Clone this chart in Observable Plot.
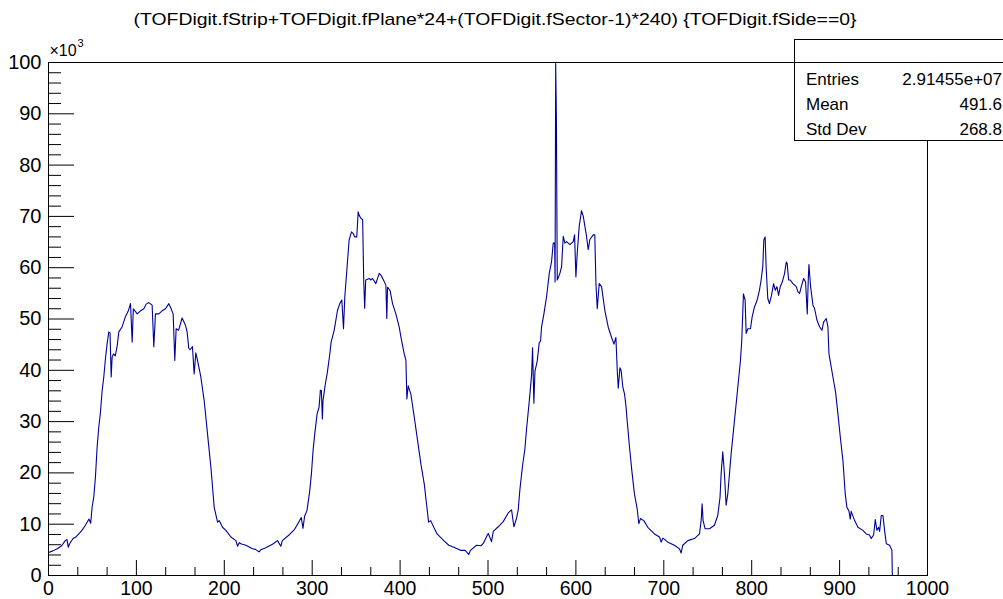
<!DOCTYPE html>
<html><head><meta charset="utf-8">
<script src="https://cdn.jsdelivr.net/npm/d3@7"></script>
<script src="https://cdn.jsdelivr.net/npm/@observablehq/plot@0.6"></script>
<style>
body{margin:0;background:#fff;}
#wrap{position:relative;width:1003px;height:599px;overflow:hidden;font-family:"Liberation Sans",Arial,sans-serif;}
#wrap svg{position:absolute;left:0;top:0;}
#stats{position:absolute;left:794px;top:39px;width:216px;height:102px;border:1px solid #000;background:#fff;box-sizing:border-box;}
#stats .hdr{height:22px;border-bottom:1px solid #000;}
#stats .row{position:absolute;left:11px;width:196px;height:25px;line-height:25px;font-size:17px;color:#000;}
#stats .row .v{position:absolute;right:0;top:0;}
</style></head><body><div id="wrap"></div>
<script>
const chartTitle = "(TOFDigit.fStrip+TOFDigit.fPlane*24+(TOFDigit.fSector-1)*240) {TOFDigit.fSide==0}";
const statLabels = ["Entries", "Mean", "Std Dev"];
const statValues = ["2.91455e+07", "491.6", "268.8"];
const xTickLabels = [0, 100, 200, 300, 400, 500, 600, 700, 800, 900, 1000];
const yTickLabels = [0, 10, 20, 30, 40, 50, 60, 70, 80, 90, 100];
const xMinorTicks = [33.33,66.67,133.33,166.67,233.33,266.67,333.33,366.67,433.33,466.67,533.33,566.67,633.33,666.67,733.33,766.67,833.33,866.67,933.33,966.67];
const yMinorTicks = [2,4,6,8,12,14,16,18,22,24,26,28,32,34,36,38,42,44,46,48,52,54,56,58,62,64,66,68,72,74,76,78,82,84,86,88,92,94,96,98];
const yExponentBase = "×10";
const yExponentPower = "3";

// bin position (TOFDigit index) and entries in units of 10^3
const binX = [
0,5,10,15,19,21,22.5,24,28,31,35,38,42,46,48,49.6,51.5,53.4,55.3,57.2,59.1,61,62.9,64.8,66.7,68.6,70,71.3,72.4,74,76,78,80,83.8,87.6,90.6,93.3,95.2,96.5,100.9,104.7,108.5,111.1,114.1,117.9,119.8,121.7,125.5,129.3,133.1,136.9,139.5,141.8,143.7,145.2,148,152,155.8,157.7,159.6,161,163.8,165.7,167.6,169.5,173.3,177.1,179,182.8,184.7,186.6,188.5,192.3,194.2,198,201.8,207.5,213.2,215.1,217,218.8,224.5,232.1,235.5,239.6,241.5,247.2,254.8,260.5,264.3,266,274.3,280,285.7,287.6,289.5,291.4,294,297.2,299.1,301,302.9,305.6,307.8,309.3,310.4,311.6,312.3,315,317,319.6,321.5,325,328.8,331.4,333.7,335.6,337.1,339.4,342,344.7,346.5,348.5,350.7,352.3,353.5,355.5,357.4,358.6,359.7,360.9,365,366.8,368.6,372.4,376.2,378,381.1,383.8,384.9,385.7,388.7,391.4,395.2,399,400.9,404.7,406.6,407.7,409.2,412.3,416.1,419.9,423.7,427.5,430.5,432.4,434.8,438.3,442.1,449.7,455.4,461.1,468.7,474,478.1,480,487,492,494.6,498.4,500.3,504,506,511.6,517.3,523,526.8,529.5,532.5,534.4,536.3,539.3,542,543.9,546.9,549.6,550.7,552.2,553.4,556,558.3,559.8,560.9,563.6,566.6,569.7,572.3,574.2,575.8,576.3,577,577.8,578.8,581.8,583.7,585.6,587.5,589.4,593.2,597,598.5,600,601.5,603.8,606.4,608.3,610.2,612.1,614,615.9,619.7,621.5,622.8,624.3,626.5,629.2,633,636.8,640.6,643.3,645.5,647.1,648.2,650.1,651.5,653.4,655.3,657,658.3,661,663.6,666.6,669.7,671.6,673.5,677.2,681.8,689.4,695.1,697,699,704.6,712.1,717.8,719.7,721.6,727.3,734.9,740.6,742.5,743.6,744.7,747,752,757.6,761.4,764,765.2,767.1,769,770.9,772.8,776.6,780.4,784.2,787.2,788.7,790.6,792.5,793.7,795.6,798.6,800.5,803.1,806.2,808.8,810.7,812.6,813.8,815.3,816.4,818.3,820.2,822.5,824.9,826.8,828.7,830.6,832.5,834.8,837.4,839.3,840.4,842,843.9,846.9,850.7,852.6,854.5,856.4,859.1,861.3,863.2,864.4,865.1,867,869.7,871.6,874.2,877.2,879.9,881.8,884.8,886.7,887.9,889.8,892.4,895.4,898.1,900.8,903.8,906.4,908.3,910.6,912.1,913.2,917.1,920.9,926.5,930.3,934,936,938.7,940.6,942.5,944.4,945.5,947.4,949.3,951.2,953.1,956.9,959.5,960,1000
];
const countsK = [
4.5,4.8,5.2,5.8,6.8,7.0,5.5,6.2,7.2,7.5,8.2,8.8,9.8,11.0,10.2,13.3,15.3,19.2,25.0,28.9,31.8,36,38.7,42.3,45.2,47.5,47.3,38.7,42.6,43.2,42.8,44.6,47.5,48.5,50.5,51.5,53.0,45.5,52.0,51.0,51.6,52,52.9,53.2,52.7,44.6,51,51,51.6,52,53,52,51,41.9,48.1,47.8,50.2,48.8,47.5,44.3,44,44.6,39.3,43.4,42,38.7,34.1,30.9,24.4,21.2,17.3,13.3,10.4,10.7,9.4,8.8,7.5,6.8,5.7,6.4,6.2,5.9,5.2,5.1,4.6,5.0,5.4,6.1,6.8,5.7,6.8,8.0,9.0,10.7,11.3,9.2,11.6,12.6,16.5,19.8,24.4,27.6,31.5,32.8,36.1,36.1,30.5,34.1,37.4,39.3,42.6,45.5,47.8,51.7,53,53.7,48.1,54.3,59.5,65.4,67,66.7,66,66,70.9,70.2,69.6,69.4,57.6,52.1,57.6,57.9,57.6,57.9,56.9,58.9,58.6,57.6,56.6,50.1,56.2,55.5,53,51,48.4,46.5,43.2,42,34.4,37,35.3,30.9,26.3,21.7,17.8,13.3,10.4,10.7,9.4,8.1,6.8,5.9,5.5,4.9,4.9,4.1,4.9,5.9,5.8,6.25,7.6,8.2,6.6,8.6,9.5,10.5,12.2,12.8,9.5,11.2,12.8,16.8,21.4,24.7,28.6,33.9,39.1,44.4,33.6,39.8,41.8,45.4,45.7,48.4,51,54.3,58.9,61.2,64.8,64.8,57.2,99.8,89.1,57.6,58.9,60.2,66.1,64.8,65.1,64.5,65.1,66.4,58.2,62.8,68.1,71.1,70.1,68.1,66.1,63.5,65.5,66.4,66.4,56.9,52,56.9,56.3,51.6,48.4,46.4,45.1,46.4,39.8,36.5,40.5,39.9,36.7,35.4,33,30.2,25,20.5,15.9,13,10.1,11.1,10.7,9.4,8.1,7.5,6.5,7.3,6.5,5.9,5.2,4.4,5.9,6.8,7.2,8.1,10.7,14,10.7,9.1,9.1,9.8,11.7,15.3,19.8,24.1,19.8,13.7,15.9,23.7,30.2,36.7,41.9,45.8,54.9,53.7,47.2,48.1,48.1,50.4,52.3,53.7,55.6,57.6,60.2,65.4,66,60.2,54,53,54.6,56.9,55.6,56.3,54.6,56.3,57.2,58.9,61.1,60.8,57.6,57.6,56.9,56.3,55.3,55,56.3,57.9,57.2,51,57.9,60.6,56.3,52.7,52,49.8,48.5,47.8,49.4,50.1,48.5,43.2,41.3,38.7,35.8,31.5,27,22.4,15.9,13.3,12.6,11,12.5,10.7,9.4,8.8,8.1,7.9,7.2,7.9,10.9,8.8,9.4,8.6,11.7,11.7,8.8,6.2,5.9,4.9,0,0
];

const data = binX.map((x, i) => ({bin: x, entries: countsK[i]}));
const W = 1003, H = 599, mL = 48, mR = 76, mT = 62, mB = 24;
const fw = W - mL - mR, fh = H - mT - mB;
const font = '"Liberation Sans", Arial, sans-serif';

const plot = Plot.plot({
  width: W, height: H,
  marginLeft: mL, marginRight: mR, marginTop: mT, marginBottom: mB,
  style: {fontFamily: font, background: "white", color: "black", overflow: "visible"},
  x: {domain: [0, 1000], label: null},
  y: {domain: [0, 100], label: null},
  marks: [
    Plot.lineY(data, {x: "bin", y: "entries", stroke: "#000099", strokeWidth: 1.1}),
    Plot.tickY(yTickLabels, {y: d => d, insetRight: fw - 26, stroke: "black"}),
    Plot.tickY(yMinorTicks, {y: d => d, insetRight: fw - 13, stroke: "black"}),
    Plot.tickX(xTickLabels, {x: d => d, insetTop: fh - 15, stroke: "black"}),
    Plot.tickX(xMinorTicks, {x: d => d, insetTop: fh - 8, stroke: "black"}),
    Plot.axisX({ticks: xTickLabels, tickSize: 0, tickPadding: 6, fontSize: 19.5, tickFormat: d => String(d)}),
    Plot.axisY({ticks: yTickLabels, tickSize: 0, tickPadding: 7, fontSize: 20, tickFormat: d => String(d)}),
    Plot.frame({stroke: "black"}),
    Plot.text([yExponentBase], {frameAnchor: "top-left", dx: 1, dy: -12, textAnchor: "start", lineAnchor: "middle", fontSize: 16, fill: "black"}),
    Plot.text([yExponentPower], {frameAnchor: "top-left", dx: 29, dy: -19, textAnchor: "start", lineAnchor: "middle", fontSize: 11, fill: "black"}),
    Plot.text([chartTitle], {frameAnchor: "top", dx: 7, dy: -43, lineAnchor: "middle", fontSize: 17, fill: "black"})
  ]
});

const wrap = document.getElementById("wrap");
wrap.appendChild(plot);
d3.select(plot).selectAll("text").filter(function() { return this.textContent === chartTitle; })
  .attr("textLength", 723).attr("lengthAdjust", "spacingAndGlyphs");

const stats = d3.select(wrap).append("div").attr("id", "stats");
stats.append("div").attr("class", "hdr");
statLabels.forEach((lab, i) => {
  const r = stats.append("div").attr("class", "row").style("top", (27 + i * 25) + "px");
  r.append("span").text(lab);
  r.append("span").attr("class", "v").text(statValues[i]);
});
</script></body></html>
